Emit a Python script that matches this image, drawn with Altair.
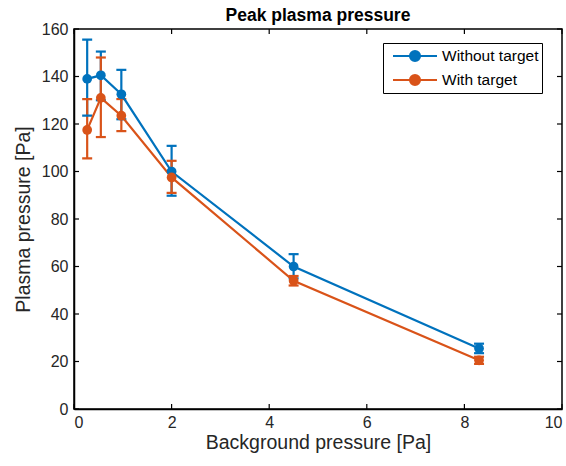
import altair as alt
import pandas as pd

# Data
bg_pressure = [0.27, 0.55, 0.97, 2.0, 4.5, 8.3]
without_target = [139.0, 140.5, 132.5, 100.0, 60.0, 25.5]
without_lo = [123.5, 130.0, 122.0, 89.8, 55.0, 23.5]
without_hi = [155.5, 150.5, 142.8, 110.8, 65.2, 27.5]
with_target = [117.5, 131.0, 123.5, 97.5, 54.0, 20.5]
with_lo = [105.5, 114.5, 117.0, 91.0, 52.0, 19.0]
with_hi = [130.5, 148.0, 130.5, 104.5, 56.0, 22.0]
series_names = ["Without target", "With target"]
colors = ["#0072BD", "#D95319"]
x_ticks = [0, 2, 4, 6, 8, 10]
y_ticks = [0, 20, 40, 60, 80, 100, 120, 140, 160]

rows = []
for name, vals, lo, hi in [
    (series_names[0], without_target, without_lo, without_hi),
    (series_names[1], with_target, with_lo, with_hi),
]:
    for x, v, l, h in zip(bg_pressure, vals, lo, hi):
        rows.append({"x": x, "y": v, "lo": l, "hi": h, "series": name})
df = pd.DataFrame(rows)

W, H = 488, 380
FONT = "Liberation Sans"

xscale = alt.Scale(domain=[0, 10], nice=False, zero=False)
yscale = alt.Scale(domain=[0, 160], nice=False, zero=False)
color = alt.Color(
    "series:N",
    scale=alt.Scale(domain=series_names, range=colors),
    legend=alt.Legend(
        title=None,
        orient="none",
        legendX=309,
        legendY=14,
        symbolType="M -1 0 L 1 0 M 0.23 0 A 0.23 0.23 0 1 1 -0.23 0 A 0.23 0.23 0 1 1 0.23 0 Z",
        symbolSize=1936,
        symbolStrokeWidth=2,
        symbolOpacity=1,
        clipHeight=20,
        labelFont=FONT,
        labelFontSize=15.5,
        labelColor="black",
        strokeColor="black",
        fillColor="white",
        padding=3,
        rowPadding=4,
        symbolOffset=6,
        labelOffset=4,
    ),
)

base = alt.Chart(df)

xenc = alt.X(
    "x:Q",
    scale=xscale,
    axis=alt.Axis(
        values=x_ticks,
        title="Background pressure [Pa]",
        ticks=False,
        grid=False,
        labelPadding=5,
        titlePadding=3,
    ),
)
yenc = alt.Y(
    "y:Q",
    scale=yscale,
    axis=alt.Axis(
        values=y_ticks,
        title="Plasma pressure [Pa]",
        ticks=False,
        grid=False,
        labelPadding=6,
        titlePadding=8,
    ),
)

lines = base.mark_line(strokeWidth=2.2, opacity=1).encode(x=xenc, y=yenc, color=color)
points = base.mark_point(filled=True, size=95, opacity=1).encode(x="x:Q", y="y:Q", color=color)
err = base.mark_rule(strokeWidth=2.2, opacity=1).encode(x="x:Q", y="lo:Q", y2="hi:Q", color=color)
cap_lo = base.mark_tick(orient="horizontal", size=10, thickness=2.2, opacity=1).encode(
    x="x:Q", y="lo:Q", color=color)
cap_hi = base.mark_tick(orient="horizontal", size=10, thickness=2.2, opacity=1).encode(
    x="x:Q", y="hi:Q", color=color)

xt = pd.DataFrame({"t": x_ticks})
yt = pd.DataFrame({"t": y_ticks})
tb = alt.Chart(xt).mark_rule(color="black", strokeWidth=1.2).encode(
    x=alt.X("t:Q", scale=xscale), y=alt.value(H), y2=alt.value(H - 5))
tt = alt.Chart(xt).mark_rule(color="black", strokeWidth=1.2).encode(
    x=alt.X("t:Q", scale=xscale), y=alt.value(0), y2=alt.value(5))
tl = alt.Chart(yt).mark_rule(color="black", strokeWidth=1.2).encode(
    y=alt.Y("t:Q", scale=yscale), x=alt.value(0), x2=alt.value(5))
tr = alt.Chart(yt).mark_rule(color="black", strokeWidth=1.2).encode(
    y=alt.Y("t:Q", scale=yscale), x=alt.value(W), x2=alt.value(W - 5))

chart = (
    alt.layer(err, cap_lo, cap_hi, lines, points, tb, tt, tl, tr)
    .properties(
        width=W,
        height=H,
        background="white",
        autosize=alt.AutoSizeParams(type="none"),
        padding={"left": 74, "top": 29, "right": 4, "bottom": 55},
        title=alt.TitleParams(
            "Peak plasma pressure", font=FONT, fontSize=17.5, fontWeight="bold",
            color="black", offset=-3, anchor="middle",
        ),
    )
    .configure_view(stroke="black", strokeWidth=1.5)
    .configure_axis(
        domainColor="black",
        domainWidth=1.5,
        labelFont=FONT,
        labelFontSize=16,
        labelColor="#262626",
        titleFont=FONT,
        titleFontSize=19.5,
        titleFontWeight="normal",
        titleColor="#262626",
    )
)

chart.save("out.html", embed_options={"renderer": "svg", "actions": False})
